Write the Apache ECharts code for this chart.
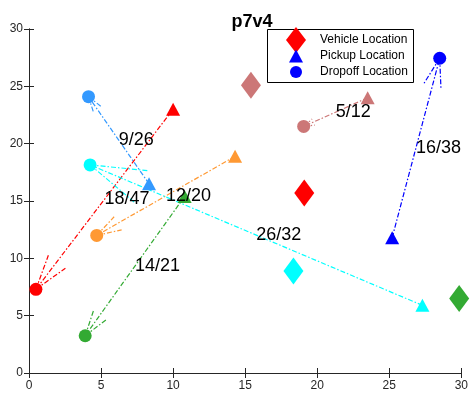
<!DOCTYPE html>
<html>
<head>
<meta charset="utf-8">
<script src="https://cdn.jsdelivr.net/npm/echarts@6/dist/echarts.min.js"></script>
<style>
  html, body { margin: 0; padding: 0; background: #fff; }
  #chart { width: 471px; height: 396px; }
</style>
</head>
<body>
<div id="chart"></div>
<script>
// trips: label, colour, pickup and dropoff points
var trips = ['9/26', '18/47', '12/20', '14/21', '26/32', '5/12', '16/38'];
var tripColors = ['#3399ff', '#ff0000', '#ff9933', '#33aa33', '#00ffff', '#cc7777', '#0000ff'];
var pickupX = [8.33, 10.0, 14.3, 10.8, 27.3, 23.5, 25.2];
var pickupY = [16.5, 23.0, 18.9, 15.4, 5.9, 24.0, 11.8];
var dropX = [4.13, 0.48, 4.7, 3.9, 4.24, 19.06, 28.5];
var dropY = [24.1, 7.3, 12.0, 3.25, 18.15, 21.5, 27.45];

// vehicles that are visible
var vehicleX = [19.1, 18.35, 29.85, 15.4];
var vehicleY = [15.7, 8.9, 6.5, 25.1];
var vehicleColors = ['#ff0000', '#00ffff', '#33aa33', '#cc7777'];

var xTicks = [0, 5, 10, 15, 20, 25, 30];
var yTicks = [0, 5, 10, 15, 20, 25, 30];

var FONT = '"Liberation Sans", Arial, sans-serif';
var axisCol = '#262626';
var dash = [5, 2, 1.5, 2];
var tick = { show: true, inside: true, length: 5, lineStyle: { color: axisCol } };

var myChart = echarts.init(document.getElementById('chart'));

var arrowData = trips.map(function (t, i) {
  return [pickupX[i], pickupY[i], dropX[i], dropY[i]];
});

function renderArrow(params, api) {
  var i = params.dataIndex;
  var p = api.coord([api.value(0), api.value(1)]);
  var q = api.coord([api.value(2), api.value(3)]);
  var dx = q[0] - p[0], dy = q[1] - p[1];
  var len = Math.sqrt(dx * dx + dy * dy);
  var ux = -dx / len, uy = -dy / len;
  var head = 0.16 * len, ang = 0.3;
  var c = Math.cos(ang), s = Math.sin(ang);
  var b1 = [q[0] + head * (ux * c - uy * s), q[1] + head * (ux * s + uy * c)];
  var b2 = [q[0] + head * (ux * c + uy * s), q[1] + head * (-ux * s + uy * c)];
  var st = { stroke: tripColors[i], lineWidth: 1.2, lineDash: dash, fill: null };
  return {
    type: 'group',
    children: [
      { type: 'line', shape: { x1: p[0], y1: p[1], x2: q[0], y2: q[1] }, style: st },
      { type: 'line', shape: { x1: q[0], y1: q[1], x2: b1[0], y2: b1[1] }, style: st },
      { type: 'line', shape: { x1: q[0], y1: q[1], x2: b2[0], y2: b2[1] }, style: st }
    ]
  };
}

function renderLabel(params, api) {
  var i = params.dataIndex;
  var m = api.coord([(api.value(0) + api.value(2)) / 2, (api.value(1) + api.value(3)) / 2]);
  return {
    type: 'text',
    x: m[0],
    y: m[1],
    style: {
      text: trips[i],
      fill: '#000',
      font: '18px ' + FONT,
      align: 'left',
      verticalAlign: 'middle'
    }
  };
}

var option = {
  animation: false,
  title: {
    text: 'p7v4',
    left: 247,
    textAlign: 'center',
    top: 8,
    textStyle: { fontFamily: FONT, fontSize: 18, fontWeight: 'bold', color: '#000' }
  },
  grid: { left: 29, right: 6, top: 29, bottom: 23 },
  xAxis: [{
    type: 'value', min: xTicks[0], max: xTicks[xTicks.length - 1], interval: 5,
    axisLine: { lineStyle: { color: axisCol } },
    axisTick: tick,
    axisLabel: { color: axisCol, fontFamily: FONT, fontSize: 12, margin: 7 },
    splitLine: { show: false }
  }, {
    type: 'value', position: 'top', min: xTicks[0], max: xTicks[xTicks.length - 1], interval: 5,
    axisLine: { show: true, lineStyle: { color: axisCol } },
    axisTick: tick,
    axisLabel: { show: false },
    splitLine: { show: false }
  }],
  yAxis: [{
    type: 'value', min: yTicks[0], max: yTicks[yTicks.length - 1], interval: 5,
    axisLine: { show: true, lineStyle: { color: axisCol } },
    axisTick: tick,
    axisLabel: { color: axisCol, fontFamily: FONT, fontSize: 12, margin: 6 },
    splitLine: { show: false }
  }, {
    type: 'value', position: 'right', min: yTicks[0], max: yTicks[yTicks.length - 1], interval: 5,
    axisLine: { show: true, lineStyle: { color: axisCol } },
    axisTick: tick,
    axisLabel: { show: false },
    splitLine: { show: false }
  }],
  graphic: [{
    type: 'rect',
    z: 3,
    shape: { x: 267.5, y: 29.5, width: 146, height: 53 },
    style: { fill: '#fff', stroke: '#000', lineWidth: 1 }
  }],
  legend: [{
    data: ['Vehicle Location'], selectedMode: false, padding: 0,
    left: 286, top: 27, itemWidth: 20, itemHeight: 26, icon: 'diamond',
    textStyle: { fontFamily: FONT, fontSize: 12, color: '#000', padding: [0, 0, 0, 9] }
  }, {
    data: ['Pickup Location'], selectedMode: false, padding: 0,
    left: 289, top: 49.5, itemWidth: 14, itemHeight: 13, icon: 'triangle',
    textStyle: { fontFamily: FONT, fontSize: 12, color: '#000', padding: [0, 0, 0, 12] }
  }, {
    data: ['Dropoff Location'], selectedMode: false, padding: 0,
    left: 290, top: 66, itemWidth: 12, itemHeight: 12, icon: 'circle',
    textStyle: { fontFamily: FONT, fontSize: 12, color: '#000', padding: [0, 0, 0, 13] }
  }],
  series: [{
    name: 'arrows',
    type: 'custom',
    z: 1,
    silent: true,
    renderItem: renderArrow,
    encode: { x: [0, 2], y: [1, 3] },
    data: arrowData
  }, {
    name: 'Vehicle Location',
    type: 'scatter',
    symbol: 'diamond',
    symbolSize: [20, 27],
    itemStyle: { color: '#ff0000', opacity: 1 },
    data: vehicleX.map(function (x, i) {
      return { value: [x, vehicleY[i]], itemStyle: { color: vehicleColors[i] } };
    })
  }, {
    name: 'Pickup Location',
    type: 'scatter',
    symbol: 'triangle',
    symbolSize: [14, 13],
    itemStyle: { color: '#0000ff', opacity: 1 },
    data: pickupX.map(function (x, i) {
      return { value: [x, pickupY[i]], itemStyle: { color: tripColors[i] } };
    })
  }, {
    name: 'Dropoff Location',
    type: 'scatter',
    symbol: 'circle',
    symbolSize: 13,
    itemStyle: { color: '#0000ff', opacity: 1 },
    data: dropX.map(function (x, i) {
      return { value: [x, dropY[i]], itemStyle: { color: tripColors[i] } };
    })
  }, {
    name: 'labels',
    type: 'custom',
    z: 4,
    silent: true,
    renderItem: renderLabel,
    encode: { x: [0, 2], y: [1, 3] },
    data: arrowData
  }]
};
myChart.setOption(option);
</script>
</body>
</html>
